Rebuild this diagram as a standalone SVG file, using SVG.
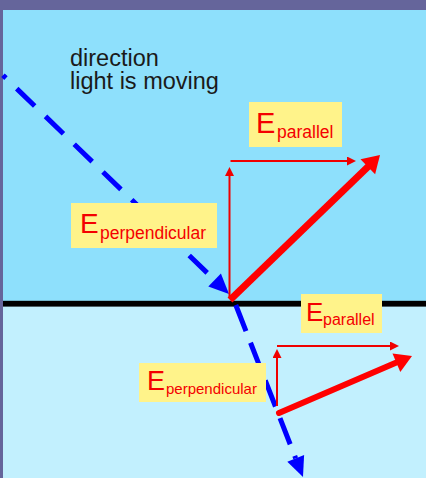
<svg xmlns="http://www.w3.org/2000/svg" width="426" height="478" viewBox="0 0 426 478">
<style>
.lbl{fill:#fff38a}
.t{font-family:"Liberation Sans",Arial,sans-serif;fill:#f40000}
.cap{font-family:"Liberation Sans",Arial,sans-serif;fill:#1a1a1a;font-size:23.5px}
.thin{stroke:#f00000;stroke-width:2;fill:none}
.thick{stroke:#ff0000;fill:none}
.dash{stroke:#0000ff;stroke-width:5;fill:none}
</style>
<defs>
<marker id="ah" markerUnits="userSpaceOnUse" viewBox="0 0 9 9" refX="0" refY="4.5" markerWidth="9" markerHeight="9" orient="auto">
<path d="M0,0 L9,4.5 L0,9 z" fill="#f00000"/>
</marker>
</defs>
<rect x="0" y="0" width="426" height="478" fill="#65659b"/>
<rect x="3" y="10" width="423" height="293" fill="#8ee0fc"/>
<rect x="3" y="303" width="423" height="175" fill="#c2f0fe"/>
<rect x="3" y="300.8" width="423" height="5.8" fill="#000"/>
<text class="cap" x="70" y="65.5">direction<tspan x="70" y="88.5">light is moving</tspan></text>
<g id="connectors">
<path class="dash" d="M3,75.3 L214.6,280" stroke-dasharray="25 15" stroke-dashoffset="20.9"/>
<polygon points="229,294 208.3,286.6 220.9,273.6" fill="#0000ff"/>
<path class="dash" d="M235.8,305 L295.7,458.4" stroke-dasharray="28 12.5"/>
<polygon points="303,477 287.3,461.7 304.1,455.1" fill="#0000ff"/>
<path class="thin" d="M229.5,298 L229.5,176" marker-end="url(#ah)"/>
<path class="thin" d="M230.5,161 L347,161" marker-end="url(#ah)"/>
<path class="thick" d="M230,300 L368.5,166.2" stroke-width="7"/>
<polygon points="380,155 375.1,174.35 360.5,159.25" fill="#ff0000"/>
<path class="thin" d="M277,406 L277,358" marker-end="url(#ah)"/>
<path class="thin" d="M277,346 L390,346" marker-end="url(#ah)"/>
<path class="thick" d="M279,413 L397,362.3" stroke-width="6" stroke-linecap="round"/>
<polygon points="412,356 400.3,371.9 392.5,353.5" fill="#ff0000"/>
</g>
<g id="e-parallel-upper">
<rect class="lbl" x="249" y="102" width="93" height="45"/>
<text class="t" x="256" y="133" font-size="29">E</text>
<text class="t" x="277" y="138" font-size="17.5">parallel</text>
</g>
<g id="e-perpendicular-upper">
<rect class="lbl" x="71" y="203" width="146" height="45"/>
<text class="t" x="80" y="233" font-size="28">E</text>
<text class="t" x="100" y="239" font-size="17.5">perpendicular</text>
</g>
<g id="e-parallel-lower">
<rect class="lbl" x="301" y="294" width="81" height="39"/>
<text class="t" x="306" y="321" font-size="26">E</text>
<text class="t" x="323" y="325" font-size="16">parallel</text>
</g>
<g id="e-perpendicular-lower">
<rect class="lbl" x="139" y="363" width="127" height="39"/>
<text class="t" x="147" y="390" font-size="27">E</text>
<text class="t" x="166" y="394" font-size="15">perpendicular</text>
</g>
</svg>
